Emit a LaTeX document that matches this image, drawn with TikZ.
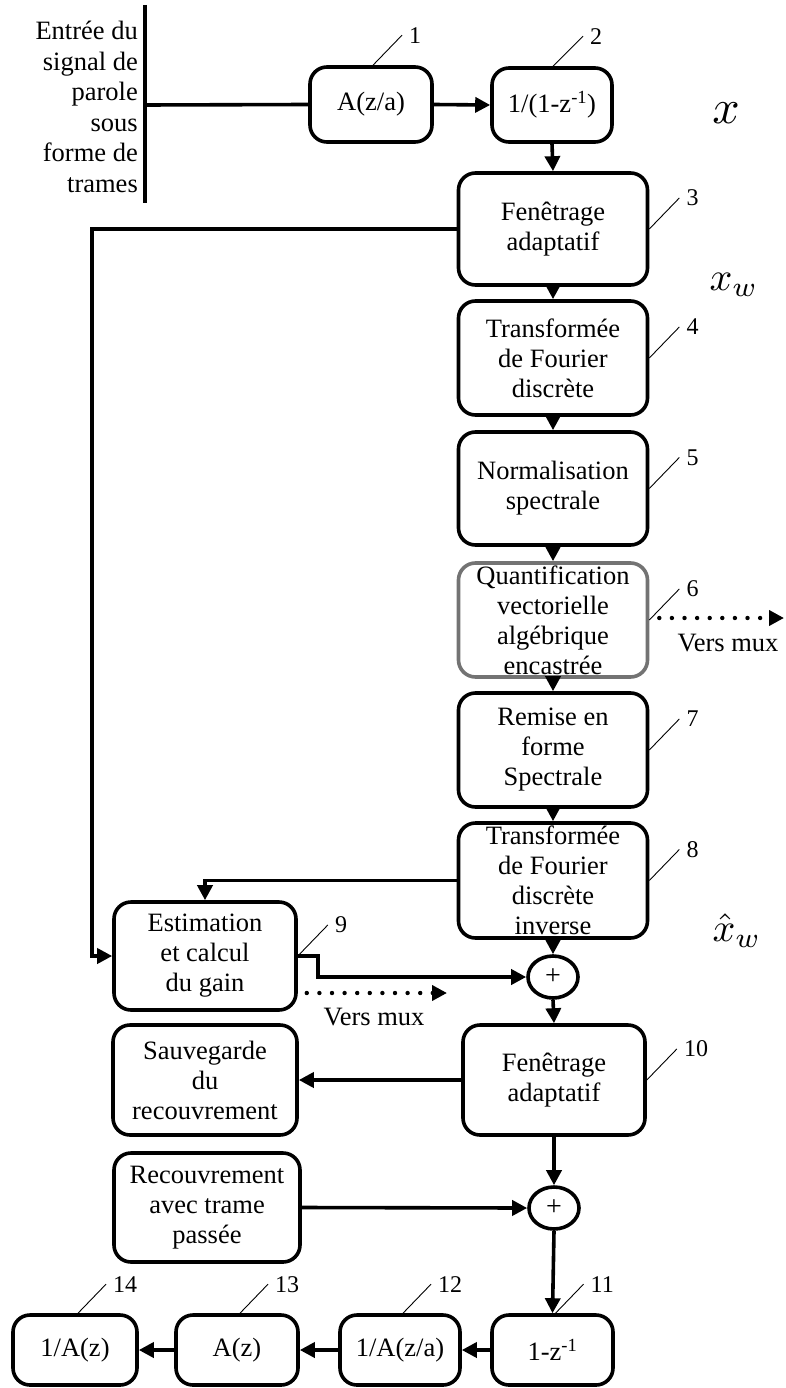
\documentclass[tikz,border=0pt]{standalone}
\usepackage{fontspec}
\setmainfont{Liberation Serif}
\usetikzlibrary{arrows.meta,shapes.geometric,calc}
\begin{document}
\begin{tikzpicture}[x=1pt,y=-1pt,line join=miter,
  box/.style={draw, line width=3.6pt, rounded corners=17pt, inner sep=0pt,
    align=center, fill=white, font=\fontsize{26.5}{30}\selectfont},
  dims/.style 2 args={minimum width=#1, minimum height=#2},
  sum/.style={draw, ellipse, line width=3.6pt, minimum width=50pt,
    minimum height=42pt, inner sep=0pt, fill=white, font=\fontsize{28}{28}\selectfont},
  wire/.style={line width=3.6pt},
  arr/.style={line width=3.6pt, -{Triangle[length=15pt,width=15pt]}},
  dotarr/.style={line width=4.4pt, line cap=round, dash pattern=on 0pt off 12.6pt,
    -{Triangle[length=15pt,width=15pt]}},
  lead/.style={line width=0.9pt},
  num/.style={font=\fontsize{24}{24}\selectfont, inner sep=0pt, anchor=west},
  txt/.style={font=\fontsize{26.5}{30.5}\selectfont, inner sep=0pt, align=center},
  sig/.style={inner sep=0pt, transform shape=false},
]
\useasboundingbox (0,0) rectangle (786,1388);

% speech input bus
\coordinate (inTop) at (145,5);
\coordinate (inBot) at (145,203);
\coordinate (inMid) at (145,105);
\node[txt, align=right, anchor=east] (intxt) at (138,107)
  {Entrée du\\signal de\\parole\\sous\\forme de\\trames};

% processing blocks
\node[box, dims={122pt}{75pt}] (b1) at (371,104.5) {A(z/a)};
\node[box, dims={120pt}{74pt}] (b2) at (552,105) {1/(1-z\textsuperscript{-1})};
\node[box, dims={189pt}{112pt}] (b3) at (553,229) {Fenêtrage\\adaptatif};
\node[box, dims={189pt}{114pt}] (b4) at (553,358) {Transformée\\de Fourier\\discrète};
\node[box, dims={189pt}{113pt}] (b5) at (553,488.5) {Normalisation\\spectrale};
\node[box, draw=black!55, dims={189pt}{114pt}] (b6) at (553,620)
  {Quantification\\vectorielle\\algébrique\\encastrée};
\node[box, dims={189pt}{114pt}] (b7) at (553,750) {Remise en\\forme\\Spectrale};
\node[box, dims={189pt}{115pt}] (b8) at (553,880.5)
  {Transformée\\de Fourier\\discrète\\inverse};
\node[sum] (p1) at (553,977) {+};
\node[box, dims={182pt}{110pt}] (b10) at (554,1080) {Fenêtrage\\adaptatif};
\node[sum] (p2) at (554,1208) {+};
\node[box, dims={121pt}{70pt}] (b11) at (552.5,1350) {1-z\textsuperscript{-1}};
\node[box, dims={120pt}{70pt}] (b12) at (400,1350) {1/A(z/a)};
\node[box, dims={122pt}{70pt}] (b13) at (237,1350) {A(z)};
\node[box, dims={124pt}{70pt}] (b14) at (75,1350) {1/A(z)};
\node[box, dims={182pt}{108pt}] (b9) at (205,956) {Estimation\\et calcul\\du gain};
\node[box, dims={184pt}{110pt}] (sv) at (205,1080) {Sauvegarde\\du\\recouvrement};
\node[box, dims={186pt}{109pt}] (rc) at (207,1207.5) {Recouvrement\\avec trame\\passée};

% signal names
\node[sig, scale=4.8] (xs) at (726,113) {$x$};
\node[sig, scale=4] (xw) at (734,285) {$x_w$};
\node[sig, scale=4] (xhw) at (737,931) {$\hat{x}_w$};

% main chain
\draw[wire] (inTop) -- (inBot);
\draw[wire] (inMid) -- (b1.west);
\draw[arr] (b1.east) -- (b2.west);
\draw[arr] (b2.south) -- (b3.north);
\draw[arr] (b3.south) -- (b4.north);
\draw[arr] (b4.south) -- (b5.north);
\draw[arr] (b5.south) -- (b6.north);
\draw[arr] (b6.south) -- (b7.north);
\draw[arr] (b7.south) -- (b8.north);
\draw[arr] (b8.south) -- (p1.north);
\draw[arr] (p1.south) -- (b10.north);
\draw[arr] (b10.west) -- (sv.east);
\draw[arr] (b10.south) -- (p2.north);
\draw[arr] (rc.east) -- (p2.west);
\draw[arr] (p2.south) -- (b11.north);
\draw[arr] (b11.west) -- (b12.east);
\draw[arr] (b12.west) -- (b13.east);
\draw[arr] (b13.west) -- (b14.east);

% gain estimation loop
\draw[arr] (b3.west) -| ([xshift=-20pt]b9.west) -- (b9.west);
\draw[arr] (b8.west) -| (b9.north);
\draw[arr] (b9.east) -- ++(20,0) |- (p1.west);

% side outputs to the multiplexer
\coordinate (mux6) at (784,618);
\coordinate (mux9) at (447,993);
\draw[dotarr] ($(b6.east)+(10,-2)$) -- (mux6);
\draw[dotarr] ($(b9.east)+(9,37)$) -- (mux9);
\node[txt] (vm6) at (728,643) {Vers mux};
\node[txt] (vm9) at (374,1017) {Vers mux};

% block numbers
\node[num] (n1) at ($(b1.north)+(38,-30)$) {1};
\node[num] (n2) at ($(b2.north)+(38,-30)$) {2};
\draw[lead] ([xshift=2pt]b1.north) -- ([xshift=-7pt]n1.west);
\draw[lead] ([xshift=1pt]b2.north) -- ([xshift=-7pt]n2.west);
\foreach \b/\t in {b3/3,b4/4,b5/5,b6/6,b7/7,b8/8,b9/9,b10/10}{
  \node[num] (n\t) at ($(\b.east)+(37,-31)$) {\t};
  \draw[lead] (\b.east) -- ([xshift=-7pt]n\t.west);
}
\foreach \b/\t in {b11/11,b12/12,b13/13,b14/14}{
  \node[num] (n\t) at ($(\b.north)+(38,-29)$) {\t};
  \draw[lead] ([xshift=3pt]\b.north) -- ([xshift=-7pt]n\t.west);
}
\end{tikzpicture}
\end{document}
